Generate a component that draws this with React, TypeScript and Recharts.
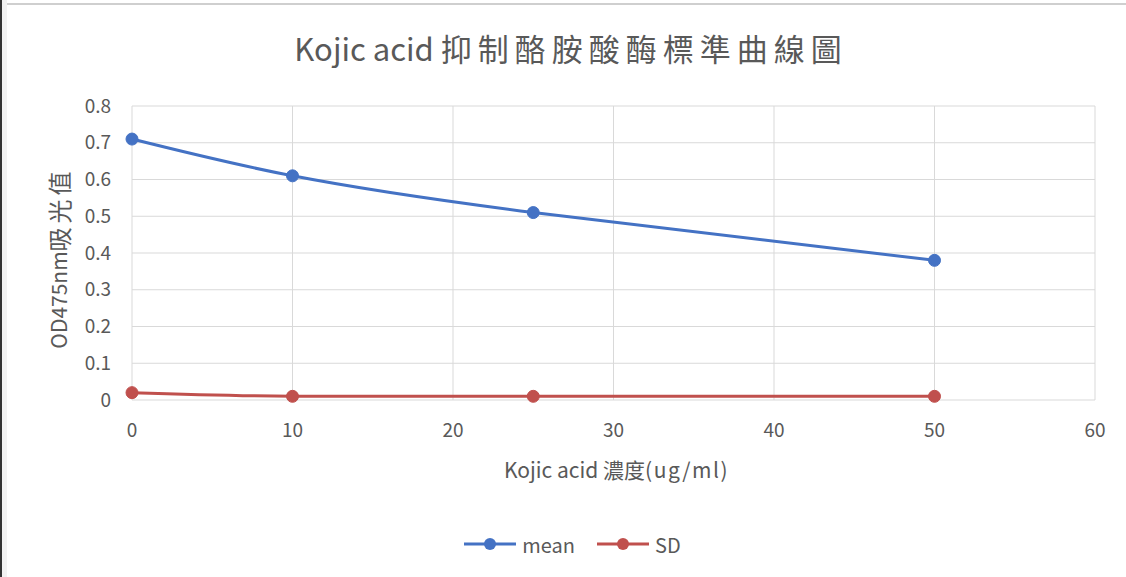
import { LineChart, Line, XAxis, YAxis, CartesianGrid, Legend, Label } from "recharts";

const concentrations = [0, 10, 25, 50];
const meanValues = [0.71, 0.61, 0.51, 0.38];
const sdValues = [0.02, 0.01, 0.01, 0.01];
const xTicks = [0, 10, 20, 30, 40, 50, 60];
const yTicks = [0, 0.1, 0.2, 0.3, 0.4, 0.5, 0.6, 0.7, 0.8];

const data = concentrations.map((c, i) => ({
  conc: c,
  mean: meanValues[i],
  SD: sdValues[i],
}));

const FONT = '"Noto Sans CJK TC", "Noto Sans", sans-serif';
const TEXT = "#595959";
const BLUE = "#4472C4";
const RED = "#C0504D";

const series = [
  { key: "mean", color: BLUE },
  { key: "SD", color: RED },
];

function LegendContent() {
  return (
    <div style={{ display: "flex", justifyContent: "center", alignItems: "center", height: 26, paddingLeft: 50, fontFamily: FONT, fontSize: 20, color: TEXT }}>
      {series.map((s) => (
        <div key={s.key} style={{ display: "flex", alignItems: "center", margin: "0 11px" }}>
          <svg width={52} height={14}>
            <line x1={0} y1={7} x2={52} y2={7} stroke={s.color} strokeWidth={3} />
            <circle cx={26} cy={7} r={6} fill={s.color} />
          </svg>
          <span style={{ marginLeft: 6 }}>{s.key}</span>
        </div>
      ))}
    </div>
  );
}

export default function App() {
  return (
    <div style={{ position: "absolute", left: 0, top: 0, width: 1126, height: 577, background: "#fff", overflow: "hidden" }}>
      <div style={{ position: "absolute", left: 0, top: 3, width: 1126, height: 2, background: "#cfcfcf" }} />
      <div style={{ position: "absolute", left: 0, top: 0, width: 2, height: 577, background: "#333" }} />
      <div style={{ position: "absolute", left: 2, top: 0, width: 5, height: 577, background: "#f2f2f2" }} />
      <div
        style={{
          position: "absolute",
          top: 25,
          left: 0,
          width: 1142,
          textAlign: "center",
          fontFamily: FONT,
          fontSize: 31,
          color: TEXT,
          whiteSpace: "nowrap",
        }}
      >
        Kojic acid <span style={{ letterSpacing: 6 }}>抑制酪胺酸酶標準曲線圖</span>
      </div>
      <LineChart width={1126} height={577} data={data} margin={{ top: 106, right: 31, bottom: 20, left: 0 }}>
        <CartesianGrid stroke="#d9d9d9" verticalValues={xTicks} horizontalValues={yTicks} />
        <XAxis
          dataKey="conc"
          type="number"
          domain={[0, 60]}
          ticks={xTicks}
          height={131}
          axisLine={false}
          tickLine={false}
          tickMargin={18}
          tick={{ fill: TEXT, fontSize: 19, fontFamily: FONT }}
        >
          <Label
            content={({ viewBox }: any) => (
              <text x={viewBox.x + viewBox.width / 2 + 3} y={viewBox.y + 78} textAnchor="middle" fill={TEXT} fontSize={21} fontFamily={FONT}>
                Kojic acid 濃度<tspan letterSpacing={1.5}>(ug/ml)</tspan>
              </text>
            )}
          />
        </XAxis>
        <YAxis
          type="number"
          domain={[0, 0.8]}
          ticks={yTicks}
          width={132}
          axisLine={false}
          tickLine={false}
          tickMargin={15}
          tickFormatter={(v: number) => (v === 0 ? "0" : v.toFixed(1))}
          tick={{ fill: TEXT, fontSize: 19, fontFamily: FONT }}
        >
          <Label
            content={({ viewBox }: any) => {
              const cx = viewBox.x + 58;
              const cy = viewBox.y + viewBox.height / 2 + 5;
              return (
                <text x={cx} y={cy} transform={`rotate(-90 ${cx} ${cy})`} textAnchor="middle" dominantBaseline="central" fill={TEXT} fontSize={21} fontFamily={FONT}>
                  OD475nm<tspan fontSize={24} letterSpacing={4}>吸光值</tspan>
                </text>
              );
            }}
          />
        </YAxis>
        <Legend verticalAlign="bottom" content={<LegendContent />} />
        {series.map((s) => (
          <Line
            key={s.key}
            type="natural"
            dataKey={s.key}
            stroke={s.color}
            strokeWidth={3}
            dot={{ r: 6, fill: s.color, stroke: s.color, strokeWidth: 1 }}
            activeDot={false}
            isAnimationActive={false}
          />
        ))}
      </LineChart>
    </div>
  );
}
